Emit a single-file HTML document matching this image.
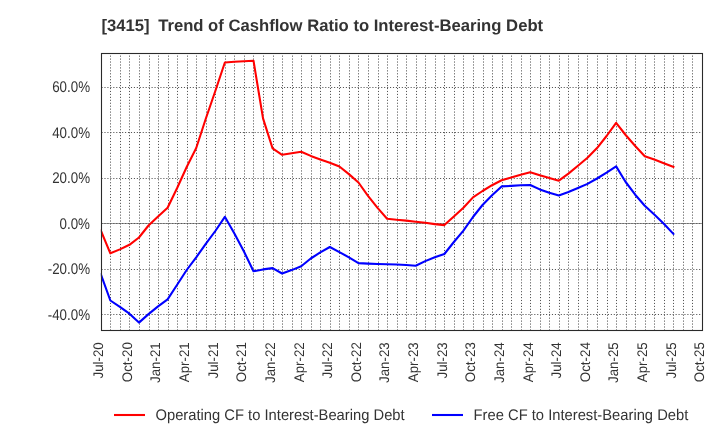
<!DOCTYPE html><html><head><meta charset="utf-8"><style>html,body{margin:0;padding:0;background:#fff;}svg{display:block;}text{font-family:"Liberation Sans",Arial,sans-serif;fill:#333;text-rendering:geometricPrecision;}</style></head><body>
<svg width="720" height="440" viewBox="0 0 720 440">
<rect width="720" height="440" fill="#fff"/>
<text x="101.5" y="31" font-size="16.67" font-weight="bold">[3415]</text>
<text x="158.15" y="31" font-size="16.67" font-weight="bold">Trend of Cashflow Ratio to Interest-Bearing Debt</text>
<path d="M101 223.5H702" stroke="#999" stroke-width="1"/>
<path d="M110.5 330.5V53.5M120.5 330.5V53.5M129.5 330.5V53.5M139.5 330.5V53.5M149.5 330.5V53.5M158.5 330.5V53.5M168.5 330.5V53.5M177.5 330.5V53.5M187.5 330.5V53.5M196.5 330.5V53.5M206.5 330.5V53.5M215.5 330.5V53.5M225.5 330.5V53.5M234.5 330.5V53.5M244.5 330.5V53.5M253.5 330.5V53.5M263.5 330.5V53.5M273.5 330.5V53.5M282.5 330.5V53.5M292.5 330.5V53.5M301.5 330.5V53.5M311.5 330.5V53.5M320.5 330.5V53.5M330.5 330.5V53.5M339.5 330.5V53.5M349.5 330.5V53.5M358.5 330.5V53.5M368.5 330.5V53.5M378.5 330.5V53.5M387.5 330.5V53.5M397.5 330.5V53.5M406.5 330.5V53.5M416.5 330.5V53.5M425.5 330.5V53.5M435.5 330.5V53.5M444.5 330.5V53.5M454.5 330.5V53.5M463.5 330.5V53.5M473.5 330.5V53.5M483.5 330.5V53.5M492.5 330.5V53.5M502.5 330.5V53.5M511.5 330.5V53.5M521.5 330.5V53.5M530.5 330.5V53.5M540.5 330.5V53.5M549.5 330.5V53.5M559.5 330.5V53.5M568.5 330.5V53.5M578.5 330.5V53.5M587.5 330.5V53.5M597.5 330.5V53.5M607.5 330.5V53.5M616.5 330.5V53.5M626.5 330.5V53.5M635.5 330.5V53.5M645.5 330.5V53.5M654.5 330.5V53.5M664.5 330.5V53.5M673.5 330.5V53.5M683.5 330.5V53.5M692.5 330.5V53.5M101.5 87.5H702.5M101.5 132.5H702.5M101.5 178.5H702.5M101.5 223.5H702.5M101.5 269.5H702.5M101.5 314.5H702.5" stroke="#555" stroke-width="1" stroke-dasharray="1.111 1.833" fill="none"/>
<clipPath id="c"><rect x="100.8" y="53.3" width="601.2" height="277.2"/></clipPath>
<g clip-path="url(#c)" fill="none" stroke-width="2.08" stroke-linejoin="round" stroke-linecap="square">
<polyline points="100.80,230.40 110.35,253.30 119.89,249.40 129.43,244.80 138.97,237.50 148.52,225.50 158.06,216.60 167.60,207.80 177.15,188.00 186.69,167.00 196.23,148.00 205.77,118.80 215.32,91.00 224.86,62.50 234.40,61.80 243.95,61.20 253.49,60.70 263.03,118.40 272.58,148.40 282.12,154.80 291.66,153.30 301.20,151.80 310.75,155.90 320.29,159.40 329.83,162.70 339.38,166.50 348.92,174.10 358.46,182.50 368.00,195.90 377.55,207.90 387.09,218.70 396.63,219.80 406.18,220.60 415.72,221.70 425.26,222.80 434.80,224.10 444.35,225.10 453.89,216.50 463.43,207.80 472.98,197.40 482.52,191.00 492.06,185.20 501.60,180.30 511.15,177.60 520.69,174.80 530.23,172.20 539.78,175.30 549.32,178.00 558.86,180.70 568.41,173.60 577.95,165.70 587.49,157.80 597.03,148.10 606.58,136.00 616.12,122.80 625.66,135.00 635.21,146.00 644.75,156.20 654.29,159.50 663.83,163.20 673.38,166.80" stroke="#f00"/>
<polyline points="100.80,274.10 110.35,300.50 119.89,306.90 129.43,313.70 138.97,322.60 148.52,314.10 158.06,306.40 167.60,299.40 177.15,284.70 186.69,270.00 196.23,257.30 205.77,243.80 215.32,231.00 224.86,216.80 234.40,233.50 243.95,251.50 253.49,271.30 263.03,269.40 272.58,268.10 282.12,273.50 291.66,270.10 301.20,266.20 310.75,258.50 320.29,252.40 329.83,247.00 339.38,252.10 348.92,257.30 358.46,263.10 368.00,263.60 377.55,264.00 387.09,264.30 396.63,264.50 406.18,265.00 415.72,265.70 425.26,261.10 434.80,257.20 444.35,254.00 453.89,242.00 463.43,230.60 472.98,217.00 482.52,205.00 492.06,195.30 501.60,186.40 511.15,185.90 520.69,185.30 530.23,185.00 539.78,189.40 549.32,192.80 558.86,195.50 568.41,192.00 577.95,188.00 587.49,183.90 597.03,178.50 606.58,172.60 616.12,166.40 625.66,182.00 635.21,194.70 644.75,205.70 654.29,214.60 663.83,223.80 673.38,233.90" stroke="#00f"/>
</g>
<rect x="101.5" y="53.5" width="601" height="277" fill="none" stroke="#2a2a2a" stroke-width="1.1"/>
<text transform="translate(90,92) scale(0.867,1)" font-size="15.4" text-anchor="end">60.0%</text>
<text transform="translate(90,138) scale(0.867,1)" font-size="15.4" text-anchor="end">40.0%</text>
<text transform="translate(90,183) scale(0.867,1)" font-size="15.4" text-anchor="end">20.0%</text>
<text transform="translate(90,229) scale(0.867,1)" font-size="15.4" text-anchor="end">0.0%</text>
<text transform="translate(90,274) scale(0.867,1)" font-size="15.4" text-anchor="end">-20.0%</text>
<text transform="translate(90,320) scale(0.867,1)" font-size="15.4" text-anchor="end">-40.0%</text>
<text transform="translate(103.10,342.2) rotate(-90) scale(0.96,1)" font-size="13.9" text-anchor="end">Jul-20</text>
<text transform="translate(131.73,342.2) rotate(-90) scale(0.96,1)" font-size="13.9" text-anchor="end">Oct-20</text>
<text transform="translate(160.36,342.2) rotate(-90) scale(0.96,1)" font-size="13.9" text-anchor="end">Jan-21</text>
<text transform="translate(188.99,342.2) rotate(-90) scale(0.96,1)" font-size="13.9" text-anchor="end">Apr-21</text>
<text transform="translate(217.62,342.2) rotate(-90) scale(0.96,1)" font-size="13.9" text-anchor="end">Jul-21</text>
<text transform="translate(246.25,342.2) rotate(-90) scale(0.96,1)" font-size="13.9" text-anchor="end">Oct-21</text>
<text transform="translate(274.88,342.2) rotate(-90) scale(0.96,1)" font-size="13.9" text-anchor="end">Jan-22</text>
<text transform="translate(303.50,342.2) rotate(-90) scale(0.96,1)" font-size="13.9" text-anchor="end">Apr-22</text>
<text transform="translate(332.13,342.2) rotate(-90) scale(0.96,1)" font-size="13.9" text-anchor="end">Jul-22</text>
<text transform="translate(360.76,342.2) rotate(-90) scale(0.96,1)" font-size="13.9" text-anchor="end">Oct-22</text>
<text transform="translate(389.39,342.2) rotate(-90) scale(0.96,1)" font-size="13.9" text-anchor="end">Jan-23</text>
<text transform="translate(418.02,342.2) rotate(-90) scale(0.96,1)" font-size="13.9" text-anchor="end">Apr-23</text>
<text transform="translate(446.65,342.2) rotate(-90) scale(0.96,1)" font-size="13.9" text-anchor="end">Jul-23</text>
<text transform="translate(475.28,342.2) rotate(-90) scale(0.96,1)" font-size="13.9" text-anchor="end">Oct-23</text>
<text transform="translate(503.90,342.2) rotate(-90) scale(0.96,1)" font-size="13.9" text-anchor="end">Jan-24</text>
<text transform="translate(532.53,342.2) rotate(-90) scale(0.96,1)" font-size="13.9" text-anchor="end">Apr-24</text>
<text transform="translate(561.16,342.2) rotate(-90) scale(0.96,1)" font-size="13.9" text-anchor="end">Jul-24</text>
<text transform="translate(589.79,342.2) rotate(-90) scale(0.96,1)" font-size="13.9" text-anchor="end">Oct-24</text>
<text transform="translate(618.42,342.2) rotate(-90) scale(0.96,1)" font-size="13.9" text-anchor="end">Jan-25</text>
<text transform="translate(647.05,342.2) rotate(-90) scale(0.96,1)" font-size="13.9" text-anchor="end">Apr-25</text>
<text transform="translate(675.68,342.2) rotate(-90) scale(0.96,1)" font-size="13.9" text-anchor="end">Jul-25</text>
<text transform="translate(704.31,342.2) rotate(-90) scale(0.96,1)" font-size="13.9" text-anchor="end">Oct-25</text>
<path d="M114 415H145" stroke="#f00" stroke-width="2.08"/>
<text transform="translate(155.5,420) scale(0.958,1)" font-size="15.4">Operating CF to Interest-Bearing Debt</text>
<path d="M432 415H463" stroke="#00f" stroke-width="2.08"/>
<text transform="translate(473.6,420) scale(0.958,1)" font-size="15.4">Free CF to Interest-Bearing Debt</text>
</svg></body></html>
